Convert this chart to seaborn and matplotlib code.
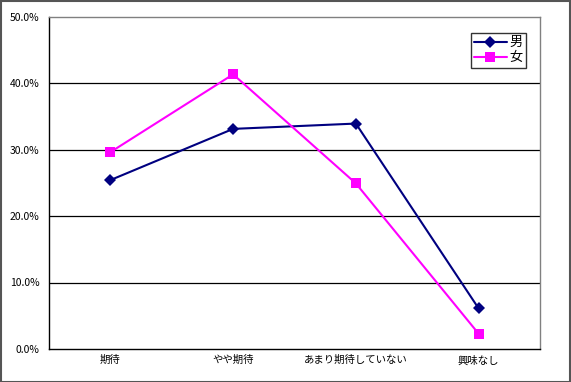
import matplotlib
matplotlib.use("Agg")
import matplotlib.pyplot as plt
import seaborn as sns
import pandas as pd
from matplotlib.ticker import FuncFormatter
from matplotlib.patches import Rectangle

categories = ["期待", "やや期待", "あまり期待していない", "興味なし"]
male = [0.254, 0.331, 0.339, 0.061]
female = [0.296, 0.413, 0.249, 0.023]
series_names = ["男", "女"]
y_ticks = [0.0, 0.1, 0.2, 0.3, 0.4, 0.5]

sns.set_theme(style="white")
plt.rcParams['font.family'] = ['Noto Sans CJK JP', 'DejaVu Sans']
plt.rcParams['text.color'] = 'black'
plt.rcParams['xtick.color'] = 'black'
plt.rcParams['ytick.color'] = 'black'

df = pd.DataFrame({
    "cat": categories * 2,
    "val": male + female,
    "sex": [series_names[0]] * 4 + [series_names[1]] * 4,
})

fig = plt.figure(figsize=(5.71, 3.82), dpi=100)
ax = fig.add_axes([49 / 571, 1 - 349 / 382, (540 - 49) / 571, (349 - 16.5) / 382])

palette = {"男": "#000080", "女": "#FF00FF"}
markers = {"男": "D", "女": "s"}
for name in series_names:
    sub = df[df["sex"] == name]
    sns.lineplot(data=sub, x="cat", y="val", ax=ax, color=palette[name],
                 marker=markers[name], markersize=6 if name == "男" else 7,
                 markeredgewidth=0, linewidth=1.5, label=name, sort=False)

ax.set_xlim(-0.5, 3.5)
ax.set_ylim(0, 0.5)
ax.set_yticks(y_ticks)
ax.yaxis.set_major_formatter(FuncFormatter(lambda v, p: f"{v*100:.1f}%"))
ax.set_xticks(range(len(categories)))
ax.set_xticklabels(categories)
ax.set_xticks([0.5, 1.5, 2.5], minor=True)
ax.tick_params(axis="x", which="major", length=0, pad=4.5, labelsize=7.5, labelcolor="black")
ax.tick_params(axis="x", which="minor", length=3, direction="in", width=0.8, color="black")
ax.tick_params(axis="y", length=0, pad=7, labelsize=7.5, labelcolor="black")
ax.set_xlabel("")
ax.set_ylabel("")
for y in y_ticks[1:-1]:
    ax.axhline(y, color="black", linewidth=0.9, zorder=0)

ax.spines["left"].set_color("black")
ax.spines["bottom"].set_color("black")
ax.spines["left"].set_linewidth(1.0)
ax.spines["bottom"].set_linewidth(1.0)
ax.spines["top"].set_color("#808080")
ax.spines["right"].set_color("#808080")
ax.spines["top"].set_linewidth(1.0)
ax.spines["right"].set_linewidth(1.0)

leg = ax.legend(loc="upper right", bbox_to_anchor=((526 - 49) / 491, (349 - 33) / 332.5),
                frameon=True, fancybox=False, fontsize=9.5, handlelength=2.5,
                borderpad=0.25, labelspacing=0.15, handletextpad=0.2, borderaxespad=0)
leg.get_frame().set_edgecolor("black")
leg.get_frame().set_linewidth(1.0)

fig.patches.append(Rectangle((0.001, 0.001), 0.997, 0.996, transform=fig.transFigure,
                             fill=False, edgecolor="#555555", linewidth=1.5))

fig.savefig("out.png", dpi=100)
